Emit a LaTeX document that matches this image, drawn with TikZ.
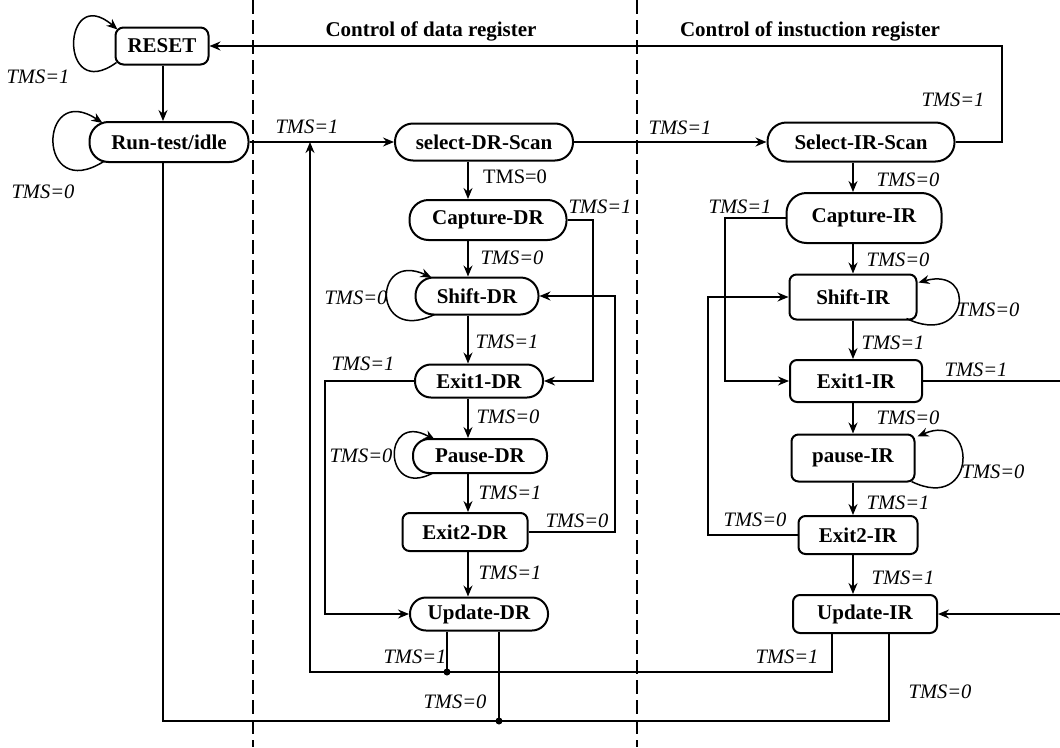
\documentclass[tikz,border=0pt]{standalone}
\usepackage{fontspec}
\setmainfont{Liberation Serif}
\usetikzlibrary{arrows.meta,calc}
\begin{document}
\begin{tikzpicture}[x=1pt,y=-1pt,
  st/.style={draw,line width=2pt,inner sep=0pt,font=\fontsize{21}{25}\selectfont\bfseries},
  lab/.style={inner sep=1pt,font=\fontsize{20.5}{24}\selectfont\itshape},
  hd/.style={inner sep=1pt,font=\fontsize{21}{25}\selectfont\bfseries},
  con/.style={line width=1.5pt},
  arr/.style={con,-{Stealth[length=11pt,width=9pt]}},
  sep/.style={line width=1.4pt,dash pattern=on 14pt off 6pt},
  dot/.style={circle,fill,inner sep=0pt,minimum size=7pt}]
\useasboundingbox (0,0) rectangle (1060,747);
% separators
\coordinate (s1t) at (253,0); \coordinate (s1b) at (253,747);
\coordinate (s2t) at (637,0); \coordinate (s2b) at (637,747);
\draw[sep] (s1t) -- (s1b);
\draw[sep] (s2t) -- (s2b);
% headers
\node[hd] (h1) at (431,31) {Control of data register};
\node[hd] (h2) at (810,31) {Control of instuction register};
% states
\node[st,minimum width=93pt,minimum height=37pt,rounded corners=8pt] (reset) at (162,46) {RESET};
\node[st,minimum width=159pt,minimum height=40pt,rounded corners=19pt] (run) at (169,142) {Run-test/idle};
\node[st,minimum width=178pt,minimum height=37pt,rounded corners=18pt] (seldr) at (484,142) {select-DR-Scan};
\node[st,minimum width=187pt,minimum height=39pt,rounded corners=19pt] (selir) at (861,142) {Select-IR-Scan};
\node[st,minimum width=157pt,minimum height=40pt,rounded corners=19pt] (capdr) at (488,220) {Capture-DR};
\node[st,minimum width=155pt,minimum height=50pt,rounded corners=20pt] (capir) at (864,218) {Capture-IR};
\node[st,minimum width=123pt,minimum height=37pt,rounded corners=18pt] (shiftdr) at (477,296) {Shift-DR};
\node[st,minimum width=127pt,minimum height=45pt,rounded corners=7pt] (shiftir) at (853,297) {Shift-IR};
\node[st,minimum width=128pt,minimum height=33pt,rounded corners=16pt] (exitadr) at (479,381) {Exit1-DR};
\node[st,minimum width=132pt,minimum height=42pt,rounded corners=7pt] (exitair) at (856,381) {Exit1-IR};
\node[st,minimum width=134pt,minimum height=34pt,rounded corners=16pt] (pausedr) at (480,456) {Pause-DR};
\node[st,minimum width=123pt,minimum height=47pt,rounded corners=7pt] (pauseir) at (853,458) {pause-IR};
\node[st,minimum width=125pt,minimum height=38pt,rounded corners=7pt] (exitbdr) at (465,532) {Exit2-DR};
\node[st,minimum width=119pt,minimum height=38pt,rounded corners=7pt] (exitbir) at (858,535) {Exit2-IR};
\node[st,minimum width=138pt,minimum height=33pt,rounded corners=16pt] (upddr) at (479,614) {Update-DR};
\node[st,minimum width=144pt,minimum height=38pt,rounded corners=7pt] (updir) at (865,614) {Update-IR};
% helper coordinates
\coordinate (dx) at (468,0);
\coordinate (ix) at (853,0);
\coordinate (rx) at (163,0);
\coordinate (rr) at (1002,46);
\coordinate (ja) at (447,672);
\coordinate (jb) at (499,721);
\coordinate (ka) at (310,672);
\coordinate (kb) at (310,142);
\coordinate (kc) at (832,672);
\coordinate (ma) at (163,721);
\coordinate (mb) at (889,721);
\coordinate (ca) at (593,381);
\coordinate (cb) at (615,532);
\coordinate (cc) at (615,296);
\coordinate (cd) at (325,381);
\coordinate (ce) at (325,614);
\coordinate (cf) at (725,218);
\coordinate (cg) at (725,381);
\coordinate (ch) at (708,535);
\coordinate (ci) at (708,297);
\coordinate (cj) at (1066,381);
\coordinate (ck) at (1066,614);
% self loops
\draw[arr] ($(reset.south west)+(2,-3)$) .. controls (58,105) and (62,-18) .. ($(reset.north west)+(3,3)$);
\draw[arr] ($(run.south west)+(16,-2)$) .. controls (36,205) and (38,80) .. ($(run.north west)+(14,2)$);
\draw[arr] ($(shiftdr.south west)+(20,-1)$) .. controls (372,345) and (372,250) .. ($(shiftdr.north west)+(17,1)$);
\draw[arr] ($(pausedr.south west)+(21,-1)$) .. controls (382,500) and (382,410) .. ($(pausedr.north west)+(23,2)$);
\draw[arr] ($(shiftir.south east)+(-11,-2)$) .. controls (968,348) and (978,266) .. ($(shiftir.north east)+(1,9)$);
\draw[arr] ($(pauseir.south east)+(-4,-1)$) .. controls (978,514) and (978,410) .. ($(pauseir.north east)+(2,3)$);
% main transitions
\draw[arr] (reset.south -| rx) -- (run.north -| rx);
\draw[arr] (run.east) -- (seldr.west);
\draw[arr] (seldr.east) -- (selir.west);
\draw[arr] (selir.east) -| (rr) -- (reset.east);
\draw[arr] (seldr.south -| dx) -- (capdr.north -| dx);
\draw[arr] (capdr.south -| dx) -- (shiftdr.north -| dx);
\draw[arr] (shiftdr.south -| dx) -- (exitadr.north -| dx);
\draw[arr] (exitadr.south -| dx) -- (pausedr.north -| dx);
\draw[arr] (pausedr.south -| dx) -- (exitbdr.north -| dx);
\draw[arr] (exitbdr.south -| dx) -- (upddr.north -| dx);
\draw[arr] (selir.south -| ix) -- (capir.north -| ix);
\draw[arr] (capir.south -| ix) -- (shiftir.north -| ix);
\draw[arr] (shiftir.south -| ix) -- (exitair.north -| ix);
\draw[arr] (exitair.south -| ix) -- (pauseir.north -| ix);
\draw[arr] (pauseir.south -| ix) -- (exitbir.north -| ix);
\draw[arr] (exitbir.south -| ix) -- (updir.north -| ix);
% side transitions
\draw[arr] (capdr.east) -| (ca) -- (exitadr.east);
\draw[arr] (exitbdr.east) -- (cb) -- (cc) -- (shiftdr.east);
\draw[arr] (exitadr.west) -- (cd) -- (ce) -- (upddr.west);
\draw[arr] (capir.west) -- (cf) -- (cg) -- (exitair.west);
\draw[arr] (exitbir.west) -- (ch) -- (ci) -- (shiftir.west);
\draw[arr] (exitair.east) -- (cj) -- (ck) -- (updir.east);
% return paths
\draw[arr] (updir.south -| kc) -- (kc) -- (ka) -- (kb);
\draw[con] (upddr.south -| ja) -- (ja);
\draw[con] (updir.south -| mb) -- (mb) -- (ma) -- (run.south -| rx);
\draw[con] (upddr.south -| jb) -- (jb);
\node[dot] (da) at (ja) {};
\node[dot] (db) at (jb) {};
% labels
\node[lab] (l1) at (38,77) {TMS=1};
\node[lab] (l2) at (43,192) {TMS=0};
\node[lab] (l3) at (307,127) {TMS=1};
\node[lab] (l4) at (953,100) {TMS=1};
\node[lab] (l5) at (680,128) {TMS=1};
\node[inner sep=1pt,font=\fontsize{20.5}{24}\selectfont] (l6) at (515,177) {TMS=0};
\node[lab] (l7) at (908,180) {TMS=0};
\node[lab] (l8) at (600,207) {TMS=1};
\node[lab] (l9) at (740,207) {TMS=1};
\node[lab] (l10) at (512,258) {TMS=0};
\node[lab] (l11) at (898,260) {TMS=0};
\node[lab] (l12) at (356,298) {TMS=0};
\node[lab] (l13) at (988,310) {TMS=0};
\node[lab] (l14) at (507,342) {TMS=1};
\node[lab] (l15) at (893,343) {TMS=1};
\node[lab] (l16) at (363,364) {TMS=1};
\node[lab] (l17) at (976,370) {TMS=1};
\node[lab] (l18) at (508,417) {TMS=0};
\node[lab] (l19) at (908,418) {TMS=0};
\node[lab] (l20) at (361,456) {TMS=0};
\node[lab] (l21) at (993,472) {TMS=0};
\node[lab] (l22) at (510,493) {TMS=1};
\node[lab] (l23) at (898,503) {TMS=1};
\node[lab] (l24) at (577,521) {TMS=0};
\node[lab] (l25) at (755,520) {TMS=0};
\node[lab] (l26) at (510,573) {TMS=1};
\node[lab] (l27) at (903,578) {TMS=1};
\node[lab] (l28) at (415,657) {TMS=1};
\node[lab] (l29) at (787,657) {TMS=1};
\node[lab] (l30) at (455,702) {TMS=0};
\node[lab] (l31) at (940,692) {TMS=0};
\end{tikzpicture}
\end{document}
